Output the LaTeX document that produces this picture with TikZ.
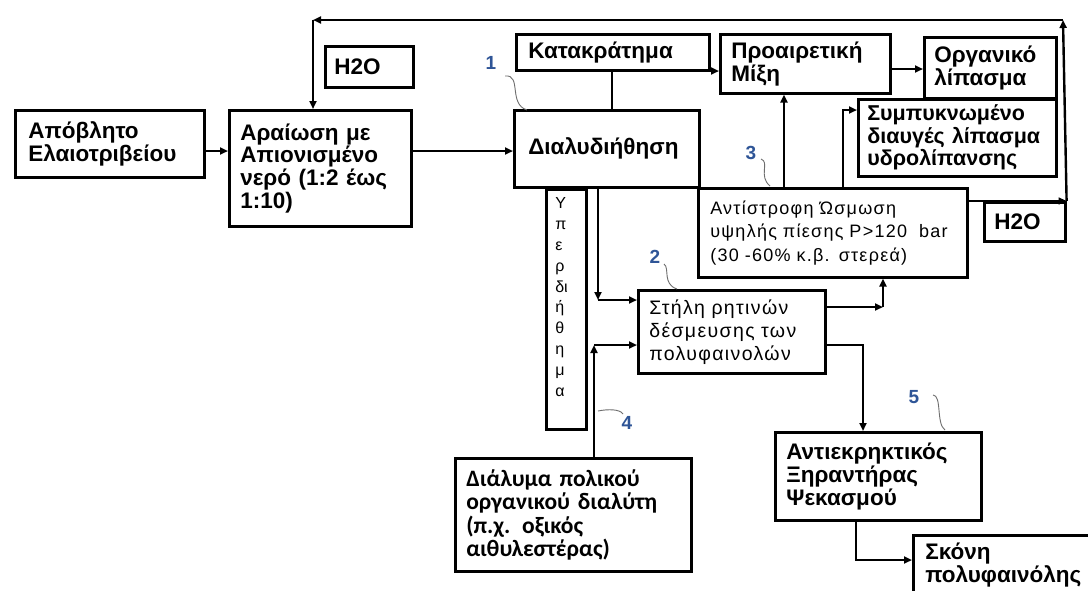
\documentclass[tikz,border=0pt]{standalone}
\usepackage{fontspec}
\setmainfont{Liberation Sans}
\newfontfamily\calfont{Carlito}
\newfontfamily\spfont[LetterSpace=7]{Liberation Sans}
\usetikzlibrary{arrows.meta}
\definecolor{labelblue}{RGB}{47,85,151}
\definecolor{curlgray}{RGB}{110,110,110}
\tikzset{
  box/.style={draw, line width=2.6pt, anchor=north west, inner ysep=0pt, align=left,
    font=\bfseries\fontsize{22.5}{22.8}\selectfont},
  regbox/.style={box, font=\spfont\fontsize{18}{23.5}\selectfont},
  conn/.style={line width=2.4pt, -{Triangle[length=8pt,width=7pt]}},
  thinconn/.style={line width=1.3pt, -{Triangle[length=8pt,width=7pt]}},
  thinline/.style={line width=1.3pt},
  curl/.style={line width=0.9pt, curlgray},
  numlabel/.style={font=\bfseries\fontsize{19}{20}\selectfont, text=labelblue, inner sep=0pt},
}
\begin{document}
\begin{tikzpicture}[x=1pt,y=-1pt]
\path[use as bounding box, clip] (0,0) rectangle (1088,590);
\fill[white] (0,0) rectangle (1088,590);

% boxes
\node[box, inner xsep=13pt, text width=163pt, minimum height=67pt] (waste) at (14,109) {Απόβλητο\\Ελαιοτριβείου};
\node[box, inner xsep=11pt, text width=160pt, minimum height=116pt] (dil) at (228,109) {Αραίωση με\\Απιονισμένο\\νερό (1:2 έως\\1:10)};
\node[box, inner xsep=9pt, text width=70pt, minimum height=41pt] (h2oa) at (324,45) {H2O};
\node[box, inner xsep=14pt, text width=157pt, minimum height=77pt] (diaf) at (513,109) {Διαλυδιήθηση};
\node[box, inner xsep=12pt, text width=169pt, minimum height=36pt] (ret) at (515,33) {Κατακράτημα};
\node[box, inner xsep=11pt, text width=148pt, minimum height=59pt] (mix) at (719,33) {Προαιρετική\\Μίξη};
\node[box, inner xsep=10pt, text width=112pt, minimum height=61pt] (org) at (923,36) {Οργανικό\\λίπασμα};
\node[box, inner xsep=9pt, text width=180pt, minimum height=77pt, font=\bfseries\fontsize{21.5}{22.5}\selectfont] (conc) at (857,98) {Συμπυκνωμένο\\\mbox{διαυγές λίπασμα}\\υδρολίπανσης};
\node[regbox, inner xsep=12pt, text width=245pt, minimum height=89pt] (ro) at (697,187) {Αντίστροφη Ώσμωση\\υψηλής πίεσης P>120\ \ bar\\(30 -60\% κ.β. στερεά)};
\node[box, inner xsep=10pt, text width=61pt, minimum height=39pt] (h2ob) at (983,201) {H2O};
\node[box, inner xsep=9pt, text width=22pt, minimum height=240pt, font=\fontsize{16}{20.8}\selectfont] (perm) at (545,188) {Υ\\π\\ε\\ρ\\δι\\ή\\θ\\η\\μ\\α\\[4pt]\mbox{}};
\node[regbox, inner xsep=11pt, text width=165pt, minimum height=83pt, font=\spfont\fontsize{19.5}{23}\selectfont] (col) at (637,289) {Στήλη ρητινών\\δέσμευσης των\\πολυφαινολών};
\node[box, inner xsep=11pt, text width=214pt, minimum height=113pt, font=\calfont\bfseries\fontsize{23.5}{23.5}\selectfont] (solv) at (454,457) {Διάλυμα πολικού\\οργανικού διαλύτη\\(π.χ. οξικός\\αιθυλεστέρας)};
\node[box, inner xsep=11pt, text width=184pt, minimum height=88pt] (dry) at (774,431) {Αντιεκρηκτικός\\Ξηραντήρας\\Ψεκασμού};
\node[box, inner xsep=12pt, text width=176pt, minimum height=60pt] (powder) at (912,534) {Σκόνη\\πολυφαινόλης};

% coordinates
\coordinate (tr) at (1063,20);
\coordinate (tl) at (313,20);
\coordinate (c1) at (598,300);
\coordinate (c2) at (594,345);
\coordinate (c3) at (883,307);
\coordinate (c4) at (863,345);
\coordinate (c5) at (856,560);
\coordinate (c6) at (843,110);

% connectors
\draw[conn] (waste.east |- 0,151) -- (dil.west |- 0,151);
\draw[conn] (dil.east |- 0,151) -- (diaf.west |- 0,151);
\draw[thinconn] (ro.east |- h2ob.north) -- (h2ob.north east);
\draw[conn] (h2ob.north east) -- (tr);
\draw[conn] (tr) -- (tl);
\draw[conn] (tl) -- (dil.north -| tl);
\draw[thinline] (diaf.north -| 612,0) -- (ret.south -| 612,0);
\draw[conn] (ret.east |- 0,71) -- (mix.west |- 0,71);
\draw[conn] (mix.east |- 0,69) -- (org.west |- 0,69);
\draw[conn] (ro.north -| 784,0) -- (mix.south -| 784,0);
\draw[conn] (ro.north -| c6) -- (c6) -- (conc.west |- c6);
\draw[conn] (diaf.south -| c1) -- (c1);
\draw[conn] (c1) -- (col.west |- c1);
\draw[conn] (solv.north -| c2) -- (c2);
\draw[conn] (c2) -- (col.west |- c2);
\draw[conn] (col.east |- c3) -- (c3);
\draw[conn] (c3) -- (ro.south -| c3);
\draw[conn] (col.east |- c4) -- (c4) -- (dry.north -| c4);
\draw[conn] (dry.south -| c5) -- (c5) -- (powder.west |- c5);

% number labels
\node[numlabel] (n1) at (491,63) {1};
\node[numlabel] (n2) at (655,257) {2};
\node[numlabel] (n3) at (751,153) {3};
\node[numlabel] (n4) at (627,423) {4};
\node[numlabel] (n5) at (914,397) {5};
\coordinate (k1a) at (505,76); \coordinate (k1b) at (527,110);
\coordinate (k2a) at (664,264); \coordinate (k2b) at (677,289);
\coordinate (k3a) at (761,159); \coordinate (k3b) at (770,186);
\coordinate (k4a) at (598,411); \coordinate (k4b) at (623,414);
\coordinate (k5a) at (933,395); \coordinate (k5b) at (945,430);
\draw[curl] (k1a) .. controls (522,74) and (508,104) .. (k1b);
\draw[curl] (k2a) .. controls (670,268) and (662,284) .. (k2b);
\draw[curl] (k3a) .. controls (770,162) and (758,176) .. (k3b);
\draw[curl] (k4a) .. controls (608,409) and (620,409) .. (k4b);
\draw[curl] (k5a) .. controls (942,395) and (936,424) .. (k5b);
\end{tikzpicture}
\end{document}
